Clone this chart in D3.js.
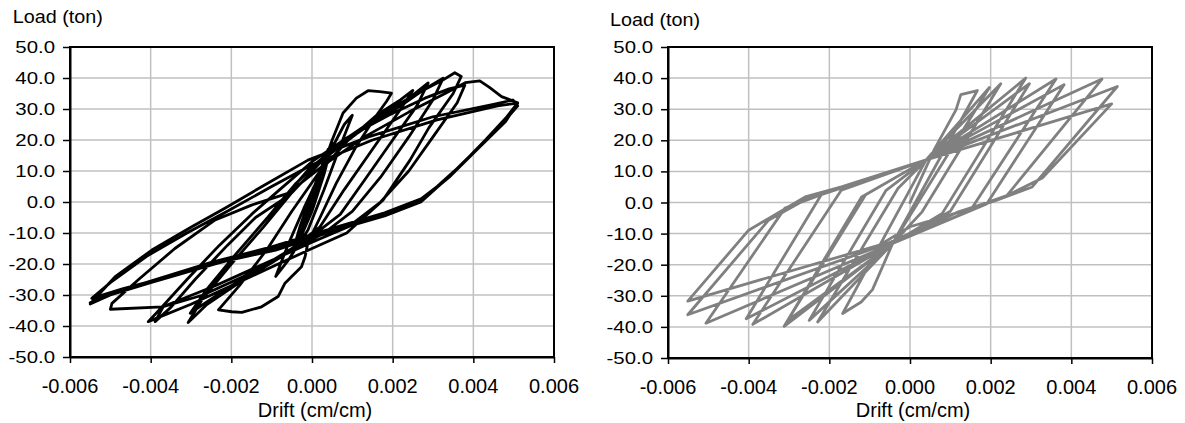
<!DOCTYPE html>
<html><head><meta charset="utf-8">
<script src="https://cdn.jsdelivr.net/npm/d3@7"></script>
<style>
html,body{margin:0;padding:0;background:#fff;}
svg{display:block;}
text{font-family:"Liberation Sans",Arial,sans-serif;fill:#000;}
</style></head>
<body>
<svg id="c" width="1185" height="423"></svg>
<script>
// ---------- data ----------
const xTicks = [-0.006,-0.004,-0.002,0,0.002,0.004,0.006];
const xTickLabels = ["-0.006","-0.004","-0.002","0.000","0.002","0.004","0.006"];
const yTicks = [50,40,30,20,10,0,-10,-20,-30,-40,-50];
const yTickLabels = ["50.0","40.0","30.0","20.0","10.0","0.0","-10.0","-20.0","-30.0","-40.0","-50.0"];
const xTitle = "Drift (cm/cm)";
const yTitle = "Load (ton)";

// Left: experimental hysteresis (drift, load)
const testDrift = [0,0.00025,0.0005,0.0003,0,-0.0003,-0.0005,-0.0003,0,
 0.0004,0.0002,-0.0002,-0.0004,-0.0001,0.0002,
 0.0004,0.0008,0.0010,0.0007,0.0003,-0.0001,-0.0006,-0.0009,-0.0006,-0.0002,
 0.0002,0.0005,0.00077,0.0011,0.00139,0.00168,0.00197,0.00185,0.0016,0.0011,0.0006,0.0002,-0.0001,-0.00017,-0.00026,-0.00067,-0.00084,-0.00125,-0.00174,-0.00199,-0.00232,
 -0.0018,-0.0011,-0.0005,0.0002,0.0009,0.0016,0.0022,0.0025,
 0.0022,0.0015,0.0008,0.0002,-0.0008,-0.0018,-0.0026,-0.00307,
 -0.0027,-0.0020,-0.0012,-0.0005,0.0003,0.0011,0.0019,0.0025,0.00288,
 0.0026,0.0020,0.0013,0.0007,0,-0.0010,-0.0020,-0.0027,-0.00302,
 -0.0026,-0.0019,-0.0011,-0.0004,0.0004,0.0013,0.0022,0.0028,0.00325,
 0.0030,0.0024,0.0017,0.0010,0.0003,-0.0007,-0.0017,-0.0027,-0.00369,-0.00389,
 -0.0035,-0.0029,-0.0021,-0.0014,-0.00075,-0.0001,0.0008,0.0017,0.0026,0.0032,0.00354,0.0037,
 0.0035,0.0029,0.00243,0.00176,0.00086,0,-0.0010,-0.0020,-0.0030,-0.00406,
 -0.0038,-0.0031,-0.0023,-0.0015,-0.0008,0,0.0009,0.0019,0.0028,0.0034,0.00379,
 0.0036,0.0030,0.0024,0.0017,0.0009,0,-0.0012,-0.0024,-0.0037,-0.0050,-0.00496,
 -0.0043,-0.0034,-0.0024,-0.0015,-0.0006,0.0003,0.0013,0.0024,0.0033,0.0038,0.00416,0.0044,0.0047,0.0051,
 0.0048,0.0043,0.0037,0.0031,0.0026,0.0018,0.0006,-0.0010,-0.0024,-0.0040,-0.0050,-0.0055,
 -0.0053,-0.00488,-0.00397,-0.00298,-0.00216,-0.00125,-0.0001,0.0014,0.0030,0.0045,0.00498,0.0051,
 0.0047,0.0040,0.0033,0.0027,0.0018,0.0006,-0.0009,-0.0024,-0.0034,-0.0047,-0.00546,
 -0.0050,-0.0041,-0.0031,-0.0021,-0.0010,0,0.0015,0.0031,0.0046,0.0051,
 0.0048,0.0041,0.0034,0.0028,0.0018,0.0005,-0.0010,-0.0025,-0.0040,-0.0050,-0.0055];
const testLoad = [0,10,19,9,-3,-12,-17,-8,3,
 17,6,-8,-15,-3,8,
 15,25,28,18,4,-9,-19,-24,-14,-2,
 9,20,28.7,33.5,35.9,35.6,35.1,32.5,28,18,6,-5,-13,-17.6,-20.9,-26.2,-30.5,-33.8,-35.6,-35.4,-34.8,
 -27,-15,-3,10,20,28,33,36,
 30,17,4,-8,-18,-26,-33,-38.9,
 -31,-20,-8,3,14,22,29,34.5,38.4,
 31,20,7,-4,-11,-19,-27,-33,-35.9,
 -28,-17,-5,6,16,24,31,36.5,39.9,
 33,21,8,-3,-10,-17,-24,-30,-33.8,-38.6,
 -34,-25,-14,-5,0.6,10.3,20,28,35,39,41.7,40.5,
 35,24,13.5,0.6,-10,-15,-21,-27,-33,-38.6,
 -35,-25,-14,-4,4,13,21,28,33.5,36.5,37.7,
 32,21,10,0,-8,-13,-20,-27,-33.8,-34.6,-32.7,
 -25,-15,-5.8,-1,2.8,12,21,29,35,38.5,39.1,37,34,32,
 27,20,12,5,0,-4,-9,-15,-20,-26,-30,-32.9,
 -30,-24.1,-15.5,-8,-2,4.9,13.5,21,27.5,31.5,32.9,31,
 25,16,7,0,-4.5,-9,-15.5,-19.8,-23.5,-28,-31.1,
 -26,-17.5,-10,-3,5,12,20,26.5,31,31.9,
 26,17,8,1.5,-3.5,-8.5,-14.5,-19.5,-25.5,-29.5,-32.5];

// Right: analytical model hysteresis (drift, load)
const modelDrift = [0,0.0006,0.00114,0.00126,0.00167,-0.00043,-0.00093,-0.00121,-0.00167,0.0004,
 0.00197,-0.00043,-0.00229,-0.0003,0.0004,
 0.00225,0.0003,-0.00043,-0.0025,-0.0006,0.0004,
 0.00287,0.0008,-0.00043,-0.00303,-0.0011,0.0004,
 0.00296,0.0010,-0.00043,-0.00312,-0.0012,0.0004,
 0.00362,0.0015,-0.00043,-0.0039,-0.0017,0.0004,
 0.00382,0.0019,-0.00043,-0.00406,-0.0022,0.0004,
 0.00476,0.00238,0.0012,-0.00043,-0.00506,-0.0031,-0.0020,0.0004,
 0.00514,0.00303,0.0021,0.0010,-0.0006,-0.00551,-0.0035,-0.0024,-0.0015,0.0004,
 0.0050,0.00328,0.0024,0.0012,0,-0.00076,-0.00551,-0.0040,-0.0026,-0.0017,0.0004];
const modelLoad = [0,17,29.8,34.7,36.0,-13.2,-28,-32.0,-35.7,13.7,
 37.0,-13.2,-38.4,4.5,13.7,
 38.2,-3.0,-13.2,-37.9,3.8,13.7,
 40.0,-3.5,-13.2,-37.9,2.5,13.7,
 38.2,-2.8,-13.2,-39.8,1.8,13.7,
 39.7,-2.5,-13.2,-39.2,4.0,13.7,
 37.9,-0.5,-13.2,-37.4,2.5,13.7,
 39.7,1.9,-3.0,-13.2,-38.8,-1.8,3.5,13.7,
 37.3,5.0,0.5,-4.0,-13.4,-36.1,-5.6,2.3,5.6,13.7,
 31.7,7.9,2.2,-3.2,-7.8,-13.7,-31.7,-8.9,1.8,5.0,13.7];

// ---------- drawing ----------
const svg = d3.select("#c");
const panels = [
  {drift:testDrift, load:testLoad, left:70, right:554, top:47, bottom:357, color:"#000000", titleX:12.7, titleY:23},
  {drift:modelDrift, load:modelLoad, left:668, right:1152, top:47, bottom:358, color:"#808080", titleX:610, titleY:26}
];

panels.forEach(p => {
  const x = d3.scaleLinear().domain([-0.006,0.006]).range([p.left,p.right]);
  const y = d3.scaleLinear().domain([-50,50]).range([p.bottom,p.top]);
  const g = svg.append("g");

  // grid
  g.selectAll(".gx").data(xTicks).join("line")
    .attr("x1",d=>x(d)).attr("x2",d=>x(d)).attr("y1",p.top).attr("y2",p.bottom)
    .attr("stroke","#c0c0c0").attr("stroke-width",1.5);
  g.selectAll(".gy").data(yTicks).join("line")
    .attr("x1",p.left).attr("x2",p.right).attr("y1",d=>y(d)).attr("y2",d=>y(d))
    .attr("stroke","#c0c0c0").attr("stroke-width",1.5);

  // data line
  const pts = p.drift.map((d,i)=>[d,p.load[i]]);
  g.append("path").datum(pts)
    .attr("d", d3.line().x(d=>x(d[0])).y(d=>y(d[1])))
    .attr("fill","none").attr("stroke",p.color).attr("stroke-width",2.8)
    .attr("stroke-linejoin","round").attr("stroke-linecap","round");

  // frame
  g.append("rect").attr("x",p.left).attr("y",p.top)
    .attr("width",p.right-p.left).attr("height",p.bottom-p.top)
    .attr("fill","none").attr("stroke","#000").attr("stroke-width",2);

  // axes (tick marks)
  const ax = g.append("g").attr("transform",`translate(0,${p.bottom})`)
    .call(d3.axisBottom(x).tickValues(xTicks).tickFormat("").tickSize(6).tickSizeOuter(0));
  const ay = g.append("g").attr("transform",`translate(${p.left},0)`)
    .call(d3.axisLeft(y).tickValues(yTicks).tickFormat("").tickSize(7).tickSizeOuter(0));
  [ax,ay].forEach(a=>{a.selectAll("line").attr("stroke","#000").attr("stroke-width",1.5);
                      a.select(".domain").attr("stroke","#000").attr("stroke-width",2);});

  // tick labels
  g.selectAll(".yl").data(yTicks).join("text")
    .attr("transform",(d)=>`translate(${p.left-15},${y(d)+6}) scale(1.2,1)`)
    .attr("text-anchor","end").style("font-size","17px")
    .text((d,i)=>yTickLabels[i]);
  g.selectAll(".xl").data(xTicks).join("text")
    .attr("x",d=>x(d)).attr("y",p.bottom+36)
    .attr("text-anchor","middle").style("font-size","20px")
    .text((d,i)=>xTickLabels[i]);

  // titles
  g.append("text").attr("x",(p.left+p.right)/2+3).attr("y",417)
    .attr("text-anchor","middle").style("font-size","20px").text(xTitle);
  g.append("text").attr("transform",`translate(${p.titleX},${p.titleY}) scale(1.07,1)`)
    .style("font-size","18.5px").text(yTitle);
});
</script>
</body></html>
